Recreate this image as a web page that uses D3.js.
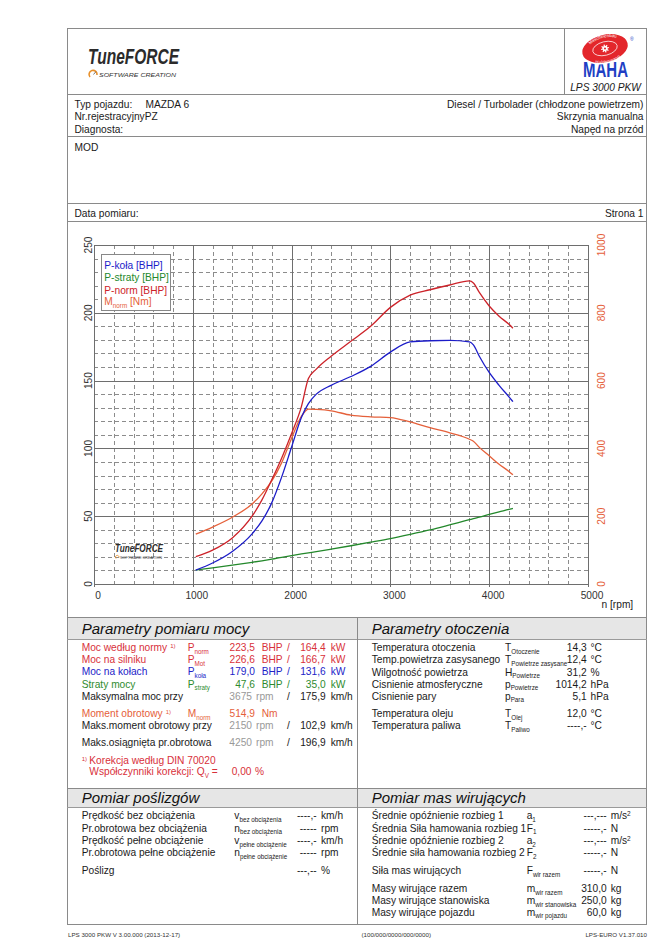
<!DOCTYPE html>
<html><head><meta charset="utf-8">
<script src="https://cdn.jsdelivr.net/npm/d3@7"></script>
<style>body{margin:0;background:#fff}svg{display:block;font-family:"Liberation Sans",Arial,sans-serif}</style>
</head><body><svg id="c" width="669" height="946"></svg>
<script>
// ---------- DATA ----------
const rpm     = [1030,1200,1400,1600,1700,1800,1900,2000,2100,2170,2250,2400,2600,2800,3000,3200,3400,3600,3800,3840,3900,4000,4100,4200,4240];
const pKola   = [10.3,15.5,24,37,46.5,60,79,101,123,133,140,146.5,153,160.5,171,178.5,179.4,179.6,178.5,176.3,168,156,146.5,138,134.5];
const pStraty = [10.3,11.9,13.9,16,17.1,18.3,19.7,21,22.2,23,23.9,25.7,28.2,30.8,33.5,36.6,39.9,43.6,47.4,48.2,49.3,51.3,53.2,55,55.8];
const pNorm   = [20.2,25,34,50,62,77,93,111,131,151.5,158.5,168,179,190,204,213,217,220.5,223.5,222,215,205,197.5,191.5,188.6];
const mNorm   = [147,168,197,236,266,304,358,430,495,516,515,511,498,493,491,478,461,446,427,421,403,378,353,332,322];
const xTicks = [0,1000,2000,3000,4000,5000];
const yTicksLeft = [0,50,100,150,200,250];
const yTicksRight = [0,200,400,600,800,1000];
const seriesNames = ["P-koła [BHP]","P-straty [BHP]","P-norm [BHP]","M"];
const seriesColors = ["#1c1cc8","#23882b","#cc2229","#e5603a"];

const headerLeft = ["Typ pojazdu:","Nr.rejestracyjnyPZ","Diagnosta:"];
const headerRight = ["Diesel / Turbolader (chłodzone powietrzem)","Skrzynia manualna","Napęd na przód"];

// ---------- SETUP ----------
const svg = d3.select("#c");
const INK = "#1a1a1a", GRAY="#999";
const RED="#d8303a", BLUE="#2323c8", GREEN="#2e8b2e", ORANGE="#e5603a";
const L=67, R=647, TOP=28, BOT=924, MID=357.5;
const NARROW='"Liberation Sans Narrow","Liberation Sans",Arial,sans-serif';

function text(x,y,s,o={}){
  const t=svg.append("text").attr("x",x).attr("y",y).attr("font-size",o.size||10.2)
    .attr("fill",o.fill||INK).text(s);
  if(o.anchor) t.attr("text-anchor",o.anchor);
  if(o.style) t.attr("font-style",o.style);
  if(o.weight) t.attr("font-weight",o.weight);
  return t;
}
function subText(x,y,main,sub,fill,size){
  const t=svg.append("text").attr("x",x).attr("y",y).attr("font-size",size||10.2).attr("fill",fill||INK);
  t.append("tspan").text(main);
  t.append("tspan").attr("font-size",6.3).attr("dy",2.6).text(sub);
  return t;
}
function line(x1,y1,x2,y2,c,w){svg.append("line").attr("x1",x1).attr("y1",y1).attr("x2",x2).attr("y2",y2).attr("stroke",c||"#8a8a8a").attr("stroke-width",w||1);}

// ---------- FRAME ----------
svg.append("rect").attr("x",L+0.5).attr("y",TOP+0.5).attr("width",R-L-1).attr("height",BOT-TOP).attr("fill","none").attr("stroke","#8a8a8a");
line(564.5,TOP,564.5,94.5);
line(L,94.5,R,94.5);
line(L,136.5,R,136.5);
line(L,203.5,R,203.5);
line(L,221.5,R,221.5);

// TuneFORCE header logo
svg.append("text").attr("x",88).attr("y",64).attr("font-size",22).attr("font-style","italic").attr("font-weight","bold")
  .attr("fill","#2b2b2b").attr("textLength",91).attr("lengthAdjust","spacingAndGlyphs")
  .attr("font-family",NARROW).text("TuneFORCE");
svg.append("path").attr("d","M90,77 A4,4 0 1 1 97,75").attr("fill","none").attr("stroke","#e8902a").attr("stroke-width",1.6);
svg.append("path").attr("d","M93.5,74.5 L96,71.5").attr("stroke","#555").attr("stroke-width",0.8);
text(99,77,"SOFTWARE CREATION",{size:6.2,style:"italic",fill:"#333"}).attr("textLength",77).attr("lengthAdjust","spacingAndGlyphs");

// MAHA logo
svg.append("text").attr("x",583).attr("y",77).attr("font-size",22).attr("font-weight","bold")
  .attr("font-family",NARROW)
  .attr("fill","#1e3fc4").attr("textLength",45).attr("lengthAdjust","spacingAndGlyphs").text("MAHA");
const lg=svg.append("g").attr("transform","translate(605,48.5) rotate(-14)");
lg.append("ellipse").attr("rx",24).attr("ry",14.5).attr("fill","#e3262b").attr("stroke","#fff").attr("stroke-width",1.6);
lg.append("ellipse").attr("rx",12.5).attr("ry",6.8).attr("fill","none").attr("stroke","#fff").attr("stroke-width",0.7);
const defs=svg.append("defs");
defs.append("path").attr("id","arcTop").attr("d","M-19,0 A19,10.8 0 0 1 19,0");
defs.append("path").attr("id","arcBot").attr("d","M-18,1 A18,10 0 0 0 18,1");
lg.append("text").attr("font-size",4.3).attr("fill","#fff").append("textPath").attr("href","#arcTop").attr("startOffset","50%").attr("text-anchor","middle").text("Maschinenbau");
lg.append("text").attr("font-size",4.3).attr("fill","#fff").attr("dy",3.5).append("textPath").attr("href","#arcBot").attr("startOffset","50%").attr("text-anchor","middle").text("Haldenwang");
lg.append("circle").attr("r",2.6).attr("fill","#fff");
d3.range(8).forEach(i=>{const a=i*Math.PI/4;lg.append("line").attr("x1",0).attr("y1",0).attr("x2",4*Math.cos(a)).attr("y2",4*Math.sin(a)).attr("stroke","#fff").attr("stroke-width",1.2);});
lg.append("circle").attr("r",1).attr("fill","#e3262b");
text(630,41,"®",{size:5,fill:"#1e3fc4"});
text(641,91.3,"LPS 3000 PKW",{size:10.2,style:"italic",anchor:"end"});

// vehicle info
const infoY=[107.6,120.1,132.6];
headerLeft.forEach((s,i)=>text(74.5,infoY[i],s));
text(145.5,infoY[0],"MAZDA 6");
headerRight.forEach((s,i)=>text(643.5,infoY[i],s,{anchor:"end"}));
text(74.5,150.6,"MOD");
text(74.5,216.6,"Data pomiaru:");
text(643.5,216.6,"Strona 1",{anchor:"end"});

// ---------- CHART ----------
const x=d3.scaleLinear().domain([0,5000]).range([94,588]);
const yL=d3.scaleLinear().domain([0,250]).range([584,245]);
const yR=d3.scaleLinear().domain([0,1000]).range([584,245]);
const g=svg.append("g");
d3.range(0,5001,200).filter(v=>v%1000!==0).forEach(v=>{
  g.append("line").attr("x1",Math.round(x(v))+0.5).attr("x2",Math.round(x(v))+0.5).attr("y1",yL(250)).attr("y2",yL(0)+3)
   .attr("stroke","#8c8c8c").attr("stroke-dasharray","4,3");
});
d3.range(0,251,10).filter(v=>v%50!==0).forEach(v=>{
  g.append("line").attr("y1",Math.round(yL(v))+0.5).attr("y2",Math.round(yL(v))+0.5).attr("x1",x(0)).attr("x2",x(5000))
   .attr("stroke","#8c8c8c").attr("stroke-dasharray","4,3");
});
xTicks.forEach(v=>g.append("line").attr("x1",Math.round(x(v))+0.5).attr("x2",Math.round(x(v))+0.5).attr("y1",yL(250)).attr("y2",yL(0)+3).attr("stroke","#6e6e6e"));
yTicksLeft.forEach(v=>g.append("line").attr("y1",Math.round(yL(v))+0.5).attr("y2",Math.round(yL(v))+0.5).attr("x1",x(0)).attr("x2",x(5000)).attr("stroke","#6e6e6e"));

xTicks.forEach(v=>text(x(v)+4,598.6,String(v),{anchor:"middle",fill:"#333"}));
yTicksLeft.forEach(v=>svg.append("text").attr("transform",`translate(${91.8},${yL(v)}) rotate(-90)`).attr("text-anchor","middle").attr("font-size",10.2).attr("fill","#333").text(v));
yTicksRight.forEach(v=>svg.append("text").attr("transform",`translate(${604.5},${yR(v)}) rotate(-90)`).attr("text-anchor","middle").attr("font-size",10.2).attr("fill",ORANGE).text(v));
text(601.5,608,"n [rpm]",{fill:"#222"});

// watermark
svg.append("text").attr("x",115).attr("y",552).attr("font-size",10).attr("font-style","italic").attr("font-weight","bold")
  .attr("fill","#2b2b2b").attr("textLength",48).attr("lengthAdjust","spacingAndGlyphs")
  .attr("font-family",NARROW).text("TuneFORCE");
svg.append("path").attr("d","M116,558.5 A1.8,1.8 0 1 1 119,557.5").attr("fill","none").attr("stroke","#e8902a").attr("stroke-width",0.9);
text(120,558.5,"SOFTWARE CREATION",{size:3.2,fill:"#444"}).attr("textLength",42).attr("lengthAdjust","spacingAndGlyphs");

// curves
const lineL=d3.line().x((d,i)=>x(rpm[i])).y(d=>yL(d)).curve(d3.curveMonotoneX);
const lineR=d3.line().x((d,i)=>x(rpm[i])).y(d=>yR(d)).curve(d3.curveMonotoneX);
g.append("path").attr("d",lineL(pStraty)).attr("fill","none").attr("stroke",seriesColors[1]).attr("stroke-width",1.3);
g.append("path").attr("d",lineR(mNorm)).attr("fill","none").attr("stroke",seriesColors[3]).attr("stroke-width",1.3);
g.append("path").attr("d",lineL(pNorm)).attr("fill","none").attr("stroke",seriesColors[2]).attr("stroke-width",1.3);
g.append("path").attr("d",lineL(pKola)).attr("fill","none").attr("stroke",seriesColors[0]).attr("stroke-width",1.3);

// legend
svg.append("rect").attr("x",101.5).attr("y",254.5).attr("width",69).attr("height",56).attr("fill","#fff").attr("stroke","#888");
const legY=[268.6,281.3,293.6,305.3];
seriesNames.forEach((s,i)=>{
  if(i<3) text(104.3,legY[i],s,{fill:seriesColors[i],size:10.2});
  else { const t=subText(104.3,legY[i],"M","norm",seriesColors[i]); t.append("tspan").attr("dy",-2.6).text(" [Nm]"); }
});

// ---------- SECTIONS ----------
line(L,617.5,R,617.5);
svg.append("rect").attr("x",L+1).attr("y",618).attr("width",R-L-2).attr("height",21).attr("fill","#e6e6e6");
line(L,639.5,R,639.5,"#9a9a9a");
svg.append("rect").attr("x",L+1).attr("y",789).attr("width",R-L-2).attr("height",18).attr("fill","#e6e6e6");
line(L,788.5,R,788.5);
line(L,807.5,R,807.5,"#9a9a9a");
line(MID,617.5,MID,BOT);
const T={size:15,style:"italic",fill:"#111"};
text(81.7,633.6,"Parametry pomiaru mocy",T);
text(371.7,633.6,"Parametry otoczenia",T);
text(81.7,802.8,"Pomiar poślizgów",T);
text(371.7,802.8,"Pomiar mas wirujących",T);

// power table
const powLabels=["Moc według normy","Moc na silniku","Moc na kołach","Straty mocy"];
const powSub=["norm","Mot","koła","straty"];
const powBHP=["223,5","226,6","179,0","47,6"];
const powKW=["164,4","166,7","131,6","35,0"];
const powColors=[RED,RED,BLUE,GREEN];
const rowsY=[651,663.2,675.4,687.6];
powLabels.forEach((s,i)=>{
  const t=text(81.7,rowsY[i],s,{fill:powColors[i]});
  if(i===0) t.append("tspan").attr("font-size",6).attr("dx",3).attr("dy",-3).text("1)");
  subText(187.7,rowsY[i],"P",powSub[i],powColors[i]);
  text(255,rowsY[i],powBHP[i],{anchor:"end",fill:powColors[i]});
  text(261.7,rowsY[i],"BHP",{fill:powColors[i]});
  text(288.3,rowsY[i],"/",{anchor:"middle",fill:powColors[i]});
  text(325.7,rowsY[i],powKW[i],{anchor:"end",fill:powColors[i]});
  text(330.7,rowsY[i],"kW",{fill:powColors[i]});
});
function rpmRow(y,label,r,k){
  text(81.7,y,label);
  text(252,y,r,{anchor:"end",fill:GRAY});
  text(256,y,"rpm",{fill:GRAY});
  text(288.3,y,"/",{anchor:"middle"});
  text(325.7,y,k,{anchor:"end"});
  text(330.7,y,"km/h");
}
rpmRow(699.9,"Maksymalna moc przy","3675","175,9");
const mt=text(81.7,717.1,"Moment obrotowy",{fill:ORANGE});
mt.append("tspan").attr("font-size",6).attr("dx",3).attr("dy",-3).text("1)");
subText(187.7,717.1,"M","norm",ORANGE);
text(255,717.1,"514,9",{anchor:"end",fill:ORANGE});
text(261.7,717.1,"Nm",{fill:ORANGE});
rpmRow(729.3,"Maks.moment obrotowy przy","2150","102,9");
rpmRow(746.1,"Maks.osiągnięta pr.obrotowa","4250","196,9");
text(81.7,760.6,"1)",{size:6,fill:RED});
text(89.3,763.6,"Korekcja według DIN 70020",{fill:RED});
const wq=svg.append("text").attr("x",89.3).attr("y",775.1).attr("font-size",10.2).attr("fill",RED);
wq.append("tspan").text("Współczynniki korekcji: Q");
wq.append("tspan").attr("font-size",6.3).attr("dy",2.6).text("V");
wq.append("tspan").attr("dy",-2.6).text(" =");
text(231.7,775.1,"0,00",{fill:RED});
text(255,775.1,"%",{fill:RED});

// environment table
const envLabels=["Temperatura otoczenia","Temp.powietrza zasysanego","Wilgotność powietrza","Cisnienie atmosferyczne","Cisnienie pary","Temperatura oleju","Temperatura paliwa"];
const envSym=["T","T","H","p","p","T","T"];
const envSub=["Otoczenie","Powietrze zasysane","Powietrze","Powietrze","Para","Olej","Paliwo"];
const envVal=["14,3","12,4","31,2","1014,2","5,1","12,0","----,-"];
const envUnit=["°C","°C","%","hPa","hPa","°C","°C"];
const envY=[650.9,663.3,675.6,687.6,699.6,717.3,729.3];
envLabels.forEach((s,i)=>{
  text(371.7,envY[i],s);
  subText(505,envY[i],envSym[i],envSub[i]);
  text(586.7,envY[i],envVal[i],{anchor:"end"});
  text(590.5,envY[i],envUnit[i]);
});

// slip table
const slipLabels=["Prędkość bez obciążenia","Pr.obrotowa bez obciążenia","Prędkość pełne obciążenie","Pr.obrotowa pełne obciążenie","Poślizg"];
const slipSym=["v","n","v","n",""];
const slipSub=["bez obciążenia","bez obciążenia","pełne obciążenie","pełne obciążenie",""];
const slipVal=["----,-","-----","----,-","-----","---,--"];
const slipUnit=["km/h","rpm","km/h","rpm","%"];
const slipY=[819.1,831.6,844.1,856.4,874.3];
slipLabels.forEach((s,i)=>{
  text(81.7,slipY[i],s);
  if(slipSym[i]) subText(234.3,slipY[i],slipSym[i],slipSub[i]);
  text(316.7,slipY[i],slipVal[i],{anchor:"end"});
  text(321,slipY[i],slipUnit[i]);
});

// rotating masses table
const masLabels=["Średnie opóźnienie rozbieg 1","Średnia Siła hamowania rozbieg 1","Średnie opóźnienie rozbieg 2","Średnie siła hamowania rozbieg 2","Siła mas wirujących","Masy wirujące razem","Masy wirujące stanowiska","Masy wirujące pojazdu"];
const masSym=["a","F","a","F","F","m","m","m"];
const masSub=["1","1","2","2","wir razem","wir razem","wir stanowiska","wir pojazdu"];
const masVal=["---,---","-----,-","---,---","-----,-","-----,-","310,0","250,0","60,0"];
const masUnit=["m/s","N","m/s","N","N","kg","kg","kg"];
const masY=[819.1,831.6,844.1,856.4,874.3,891.9,904.1,915.5];
masLabels.forEach((s,i)=>{
  text(371.7,masY[i],s);
  subText(526.7,masY[i],masSym[i],masSub[i]);
  text(606.7,masY[i],masVal[i],{anchor:"end"});
  const u=text(610.7,masY[i],masUnit[i]);
  if(masUnit[i]==="m/s") u.append("tspan").attr("font-size",6.5).attr("dy",-3).text("2");
});

// footer
text(68,937,"LPS 3000 PKW V 3.00.000 (2013-12-17)",{size:6.2,fill:"#333"});
text(361.5,937,"(100/000/0000/000/0000)",{size:6.2,fill:"#333"});
text(647,937,"LPS-EURO V1.37.010",{size:6.2,fill:"#333",anchor:"end"});
</script></body></html>
